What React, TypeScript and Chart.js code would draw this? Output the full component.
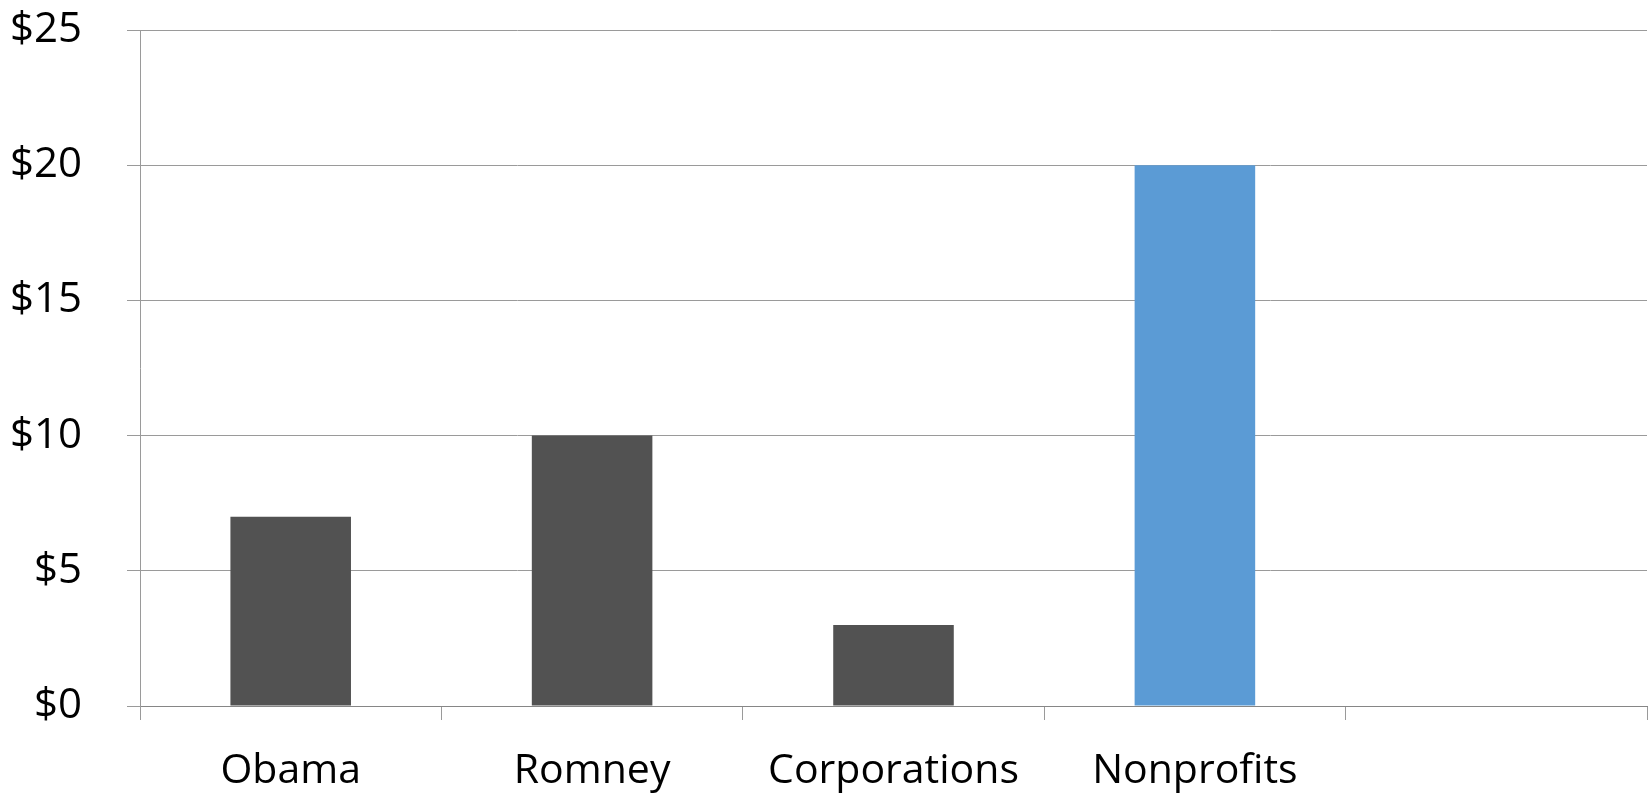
import React, { useEffect, useRef } from "react";
import { Chart, registerables } from "chart.js";

Chart.register(...registerables);

const categories = ["Obama", "Romney", "Corporations", "Nonprofits", ""];
const values = [7, 10, 3, 20, null];
const barColors = ["#525252", "#525252", "#525252", "#5b9bd5", "#525252"];
const yTicks = [0, 5, 10, 15, 20, 25];

export default function App() {
  const ref = useRef<HTMLCanvasElement | null>(null);
  useEffect(() => {
    document.body.style.margin = "0";
    const ctx = ref.current!;
    const chart = new Chart(ctx, {
      type: "bar",
      data: {
        labels: categories,
        datasets: [
          {
            data: values as any,
            backgroundColor: barColors,
            borderWidth: 0,
            barPercentage: 0.4,
            categoryPercentage: 1,
          },
        ],
      },
      options: {
        animation: false,
        responsive: false,
        maintainAspectRatio: false,
        layout: { padding: { top: 30, right: 1, left: 0, bottom: 0 } },
        plugins: { legend: { display: false }, tooltip: { enabled: false } },
        scales: {
          x: {
            offset: true,
            grid: {
              offset: true,
              drawOnChartArea: false,
              drawTicks: true,
              tickLength: 14,
              color: "#9a9a9a",
            },
            border: { display: true, color: "#868686", width: 1 },
            ticks: {
              color: "#000",
              padding: 27,
              maxRotation: 0,
              autoSkip: false,
              font: { family: "'Open Sans'", size: 41 },
            },
            afterFit: (s: any) => {
              s.height = 89;
              s.paddingLeft = 0;
              s.paddingRight = 0;
            },
          },
          y: {
            min: 0,
            max: 25,
            afterBuildTicks: (s: any) => {
              s.ticks = yTicks.map((v) => ({ value: v }));
            },
            grid: {
              color: "#9a9a9a",
              tickLength: 13,
              drawTicks: true,
            },
            border: { display: true, color: "#9a9a9a" },
            ticks: {
              color: "#000",
              padding: 45,
              font: { family: "'Open Sans'", size: 42 },
              callback: (v: any) => "$" + v,
            },
            afterFit: (s: any) => {
              s.width = 140;
              s.paddingTop = 0;
              s.paddingBottom = 0;
            },
          },
        },
      },
    });
    return () => chart.destroy();
  }, []);
  return (
    <div style={{ position: "absolute", left: 0, top: 0, width: 1648, height: 795, background: "#fff" }}>
      <canvas ref={ref} width={1648} height={795} style={{ width: 1648, height: 795 }} />
    </div>
  );
}
